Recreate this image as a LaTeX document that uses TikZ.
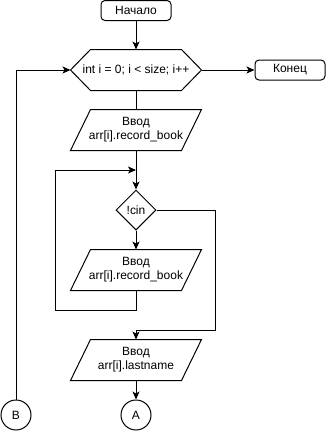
\documentclass[tikz,border=0pt]{standalone}
\usepackage{fontspec}
\setmainfont{Liberation Sans}
\usetikzlibrary{shapes.geometric,arrows.meta}

\begin{document}
\begin{tikzpicture}[x=1pt, y=-1pt, line width=1pt,
		every node/.style={font=\fontsize{12}{14}\selectfont, align=center},
		terminal/.style={draw, rounded corners=4pt, minimum width=70pt, minimum height=20pt, inner sep=0pt},
		block/.style={minimum width=130pt, minimum height=40pt, inner sep=0pt},
		cond/.style={draw, diamond, minimum width=40pt, minimum height=40pt, inner sep=0pt},
		conn/.style={draw, circle, minimum size=30pt, inner sep=0pt},
		flow/.style={-{Stealth[length=8pt, width=7pt, inset=2pt]}}]
	\useasboundingbox (0,0) rectangle (327,432);

	\node[terminal] (start) at (136,10.5) {Начало};
	\node[block] (loop) at (136,70) {int i = 0; i < size; i++};
	\draw (loop.west) -- ([xshift=20pt]loop.north west) -- ([xshift=-20pt]loop.north east)
		-- (loop.east) -- ([xshift=-20pt]loop.south east) -- ([xshift=20pt]loop.south west) -- cycle;
	\node[terminal] (end) at (290,70) {Конец};
	\node[block] (book) at (136,130) {Ввод\\arr[i].record\_book};
	\node[cond] (check) at (136,210) {!cin};
	\node[block] (rebook) at (136,270) {Ввод\\arr[i].record\_book};
	\node[block] (name) at (136,360) {Ввод\\arr[i].lastname};
	\foreach \n in {book,rebook,name}
		\draw (\n.south west) -- ([xshift=20pt]\n.north west) -- (\n.north east)
			-- ([xshift=-20pt]\n.south east) -- cycle;
	\node[conn] (A) at (136,415) {A};
	\node[conn] (B) at (16,415) {B};

	\coordinate (join) at (136,170);
	\coordinate (back) at (55,310);
	\coordinate (skip) at (215,330);

	\draw[flow] (start) -- (loop.north);
	\draw[flow] (loop.east) -- (end);
	\draw (loop.south) -- (book.north);
	\draw[flow] (book.south) -- (check.north);
	\draw[flow] (check.south) -- (rebook.north);
	\draw[flow] (rebook.south) |- (back) |- (join);
	\draw[flow] (check.east) -| (skip) -| (name.north);
	\draw[flow] (name.south) -- (A);
	\draw[flow] (B) |- (loop.west);
\end{tikzpicture}
\end{document}
